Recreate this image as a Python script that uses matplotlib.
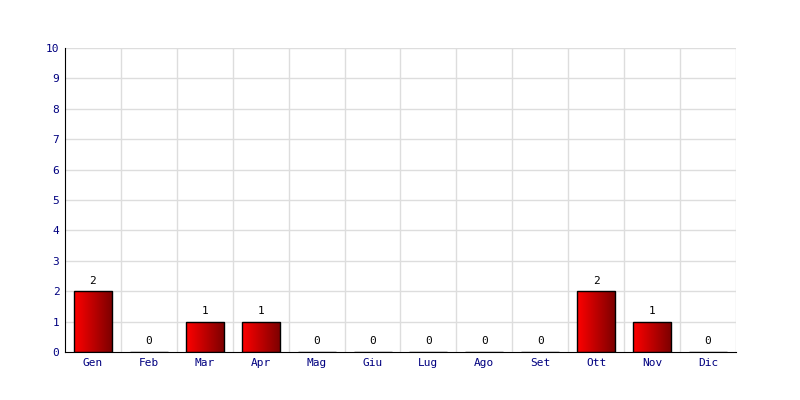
import matplotlib
matplotlib.use("Agg")
import matplotlib.pyplot as plt
import numpy as np
from matplotlib.colors import LinearSegmentedColormap

months = ["Gen", "Feb", "Mar", "Apr", "Mag", "Giu", "Lug", "Ago", "Set", "Ott", "Nov", "Dic"]
values = [2, 0, 1, 1, 0, 0, 0, 0, 0, 2, 1, 0]
yticks = list(range(0, 11))

fig = plt.figure(figsize=(8, 4), dpi=100)
ax = fig.add_axes([0.08125, 0.12, 0.83875, 0.76])

x = np.arange(len(months))
width = 0.68
ax.set_xlim(-0.5, len(months) - 0.5)
ax.set_ylim(0, 10)

cmap = LinearSegmentedColormap.from_list("rg", ["#ff0000", "#7a0000"])
grad = np.linspace(0, 1, 256).reshape(1, -1)

bars = ax.bar(x, values, width=width, facecolor="none", edgecolor="black", linewidth=1.0, zorder=3)
for b, v in zip(bars, values):
    if v > 0:
        x0 = b.get_x()
        im = ax.imshow(grad, cmap=cmap, aspect="auto", extent=[x0, x0 + width, 0, v], zorder=2)
        im.set_clip_path(b)
for xi, v in zip(x, values):
    ax.annotate(str(v), (xi, v), xytext=(0, 4), textcoords="offset points", ha="center", va="bottom",
                fontsize=8, family="DejaVu Sans Mono", color="black")

ax.set_aspect("auto")
ax.set_xlim(-0.5, len(months) - 0.5)
ax.set_ylim(0, 10)

# grid
for gx in np.arange(0.5, len(months), 1.0):
    ax.axvline(gx, color="#dddddd", linewidth=1, zorder=0)
for gy in yticks[1:]:
    ax.axhline(gy, color="#dddddd", linewidth=1, zorder=0)

ax.set_xticks(x)
ax.set_xticklabels(months, family="DejaVu Sans Mono", fontsize=8, color="#000080")
ax.set_yticks(yticks)
ax.set_yticklabels([str(t) for t in yticks], family="DejaVu Sans Mono", fontsize=8, color="#000080")
ax.tick_params(axis="both", length=0, pad=4)
ax.spines["top"].set_visible(False)
ax.spines["right"].set_visible(False)
ax.spines["left"].set_color("black")
ax.spines["bottom"].set_color("black")
ax.spines["left"].set_zorder(4)
ax.spines["bottom"].set_zorder(4)

fig.savefig("out.png", dpi=100)
